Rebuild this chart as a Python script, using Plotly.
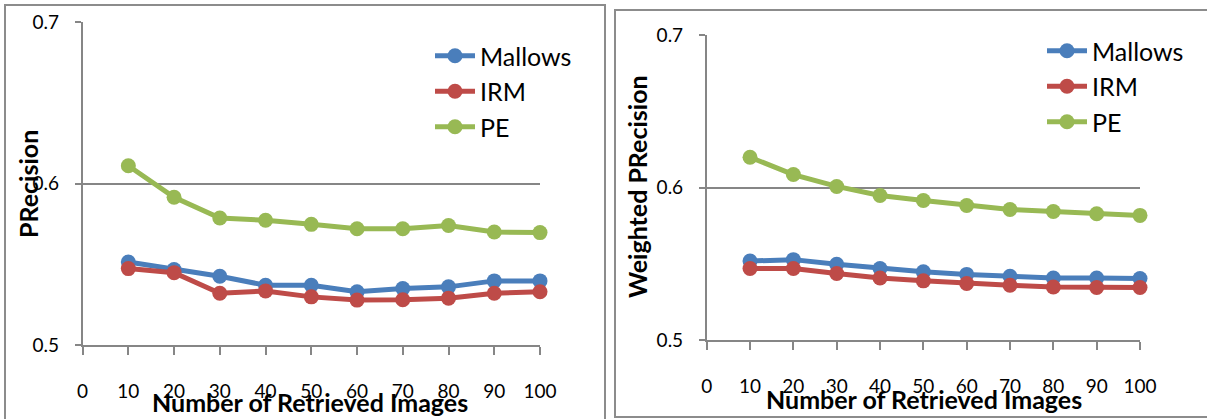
import plotly.graph_objects as go

x_vals = [10, 20, 30, 40, 50, 60, 70, 80, 90, 100]
x_ticks = [0, 10, 20, 30, 40, 50, 60, 70, 80, 90, 100]
y_ticks = [0.5, 0.6, 0.7]
y_tick_labels = ["0.5", "0.6", "0.7"]

series_names = ["Mallows", "IRM", "PE"]
series_colors = ["#4A7EBB", "#BE4B48", "#98B954"]

# Left chart: Precision
prec_mallows = [0.5514, 0.5467, 0.5426, 0.5370, 0.5370, 0.5330, 0.5350, 0.5360, 0.5397, 0.5397]
prec_irm = [0.5473, 0.5448, 0.5320, 0.5335, 0.5298, 0.5278, 0.5280, 0.5290, 0.5320, 0.5330]
prec_pe = [0.6110, 0.5915, 0.5786, 0.5772, 0.5747, 0.5720, 0.5720, 0.5740, 0.5700, 0.5696]

# Right chart: Weighted Precision
wprec_mallows = [0.5518, 0.5527, 0.5497, 0.5469, 0.5447, 0.5430, 0.5418, 0.5407, 0.5407, 0.5403]
wprec_irm = [0.5469, 0.5469, 0.5436, 0.5407, 0.5388, 0.5370, 0.5359, 0.5348, 0.5344, 0.5344]
wprec_pe = [0.6198, 0.6085, 0.6007, 0.5948, 0.5915, 0.5882, 0.5856, 0.5843, 0.5828, 0.5817]

x_title = "Number of Retrieved Images"
y_title_left = "PRecision"
y_title_right = "Weighted PRecision"

W, H = 1207, 419
FONT = "Lato"
GRAY = "#868686"

fig = go.Figure()

left = [prec_mallows, prec_irm, prec_pe]
right = [wprec_mallows, wprec_irm, wprec_pe]

for name, color, ys in zip(series_names, series_colors, left):
    fig.add_trace(go.Scatter(
        x=x_vals, y=ys, name=name, mode="lines+markers",
        line=dict(color=color, width=5), marker=dict(color=color, size=15),
        cliponaxis=False, xaxis="x", yaxis="y", legend="legend"))

for name, color, ys in zip(series_names, series_colors, right):
    fig.add_trace(go.Scatter(
        x=x_vals, y=ys, name=name, mode="lines+markers",
        line=dict(color=color, width=5), marker=dict(color=color, size=15),
        cliponaxis=False, xaxis="x2", yaxis="y2", legend="legend2"))


def px_x(p):
    return p / W


def px_y(p):
    return 1 - p / H


tickfont = dict(family=FONT, size=19, color="#000000")
titlefont = dict(family=FONT, size=25, color="#000000", weight="bold")

xcommon = dict(range=[0, 100], tickvals=x_ticks, ticktext=[str(v) for v in x_ticks],
               ticks="outside", ticklen=8, tickcolor=GRAY, tickwidth=1.5,
               showline=True, linecolor=GRAY, linewidth=1.5, showgrid=False,
               zeroline=False, tickfont=tickfont, ticklabelstandoff=20,
               automargin=False)
ycommon = dict(range=[0.5, 0.7], tickvals=y_ticks, ticktext=y_tick_labels,
               ticks="outside", ticklen=6, tickcolor=GRAY, tickwidth=1.5,
               showline=True, linecolor=GRAY, linewidth=1.5, showgrid=True,
               gridcolor=GRAY, gridwidth=1.5, zeroline=False, tickfont=tickfont,
               ticklabelstandoff=12, automargin=False)

annotations = [
    dict(text=x_title, xref="paper", yref="paper", x=px_x(310), y=px_y(402),
         xanchor="center", yanchor="middle", showarrow=False, font=titlefont),
    dict(text=x_title, xref="paper", yref="paper", x=px_x(924), y=px_y(399),
         xanchor="center", yanchor="middle", showarrow=False, font=titlefont),
    dict(text=y_title_left, xref="paper", yref="paper", x=px_x(28), y=px_y(184),
         xanchor="center", yanchor="middle", showarrow=False, font=titlefont,
         textangle=-90),
    dict(text=y_title_right, xref="paper", yref="paper", x=px_x(637), y=px_y(187),
         xanchor="center", yanchor="middle", showarrow=False, font=titlefont,
         textangle=-90),
]

fig.update_layout(
    width=W, height=H,
    margin=dict(l=0, r=0, t=0, b=0),
    paper_bgcolor="white", plot_bgcolor="white",
    font=dict(family=FONT),
    xaxis=dict(domain=[px_x(82.6), px_x(540)], anchor="y", **xcommon),
    yaxis=dict(domain=[px_y(345), px_y(22)], anchor="x", **ycommon),
    xaxis2=dict(domain=[px_x(706.7), px_x(1140)], anchor="y2", **xcommon),
    yaxis2=dict(domain=[px_y(340), px_y(35)], anchor="x2", **ycommon),
    legend=dict(x=px_x(430), y=px_y(33), xanchor="left", yanchor="top",
                font=dict(family=FONT, size=25, color="#000000"),
                bgcolor="rgba(0,0,0,0)", tracegroupgap=0, itemwidth=40),
    legend2=dict(x=px_x(1042), y=px_y(28), xanchor="left", yanchor="top",
                 font=dict(family=FONT, size=25, color="#000000"),
                 bgcolor="rgba(0,0,0,0)", tracegroupgap=0, itemwidth=40),
    showlegend=True,
    annotations=annotations,
    shapes=[
        dict(type="rect", xref="paper", yref="paper",
             x0=px_x(5), x1=px_x(605), y0=px_y(425), y1=px_y(5),
             line=dict(color="#8C8C8C", width=2), fillcolor="rgba(0,0,0,0)"),
        dict(type="rect", xref="paper", yref="paper",
             x0=px_x(615), x1=px_x(1212), y0=px_y(417), y1=px_y(10),
             line=dict(color="#8C8C8C", width=2), fillcolor="rgba(0,0,0,0)"),
    ],
)

fig.write_html("out.html")
